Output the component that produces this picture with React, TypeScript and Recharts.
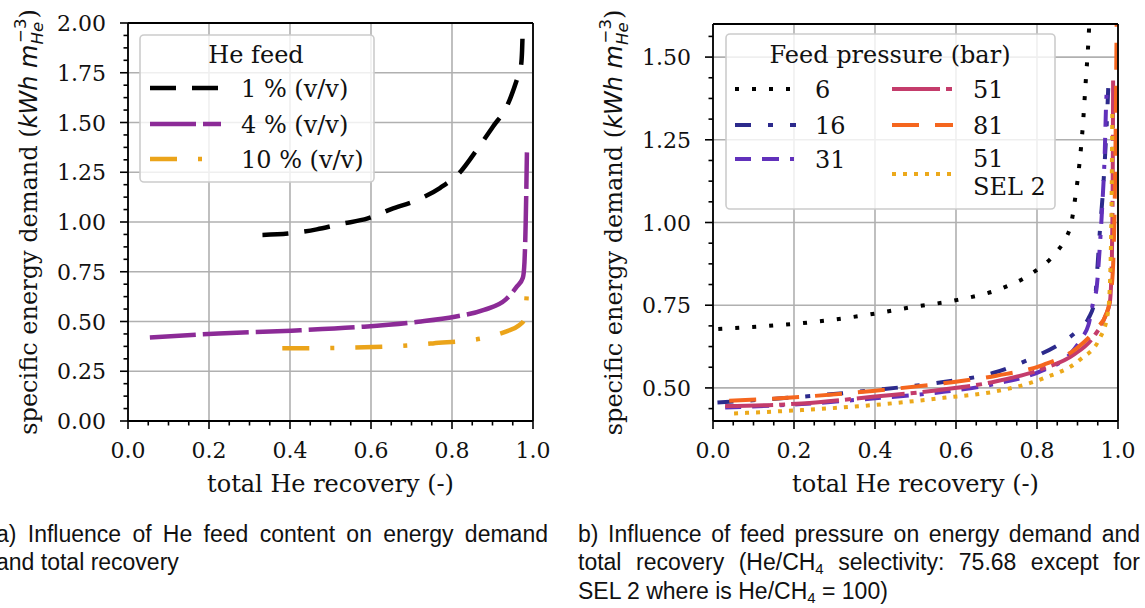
import React, { useLayoutEffect, useRef } from 'react';
import { LineChart, Line, XAxis, YAxis, CartesianGrid, ReferenceLine, Legend } from 'recharts';

// (a) He feed content
const recovery1 = [0.332, 0.395, 0.466, 0.525, 0.592, 0.65, 0.713, 0.771, 0.821, 0.861, 0.901, 0.937, 0.96, 0.97, 0.973, 0.975];
const demand1 = [0.935, 0.942, 0.963, 0.99, 1.018, 1.065, 1.11, 1.172, 1.253, 1.362, 1.479, 1.588, 1.714, 1.78, 1.86, 2.0];
const recovery4 = [0.054, 0.224, 0.404, 0.583, 0.717, 0.807, 0.879, 0.933, 0.96, 0.975, 0.979, 0.982, 0.985];
const demand4 = [0.42, 0.44, 0.454, 0.474, 0.499, 0.524, 0.558, 0.611, 0.675, 0.72, 0.8, 1.0, 1.35];
const recovery10 = [0.381, 0.5, 0.583, 0.68, 0.753, 0.874, 0.933, 0.965, 0.978, 0.982, 0.985];
const demand10 = [0.365, 0.367, 0.37, 0.378, 0.39, 0.415, 0.449, 0.48, 0.507, 0.56, 0.65];

// (b) feed pressure
const recovery6 = [0.013, 0.131, 0.254, 0.376, 0.49, 0.604, 0.713, 0.787, 0.849, 0.87, 0.885, 0.895, 0.905, 0.913, 0.92, 0.927, 0.931];
const demand6 = [0.678, 0.687, 0.7, 0.72, 0.744, 0.766, 0.801, 0.846, 0.912, 0.95, 1.0, 1.08, 1.18, 1.29, 1.42, 1.55, 1.65];
const recovery16 = [0.011, 0.184, 0.394, 0.569, 0.691, 0.787, 0.865, 0.906, 0.927, 0.943, 0.949, 0.955, 0.962, 0.968, 0.973, 0.976];
const demand16 = [0.456, 0.47, 0.493, 0.518, 0.545, 0.59, 0.64, 0.68, 0.71, 0.766, 0.86, 0.97, 1.08, 1.2, 1.32, 1.41];
const recovery31 = [0.03, 0.219, 0.394, 0.569, 0.7, 0.814, 0.88, 0.91, 0.927, 0.94, 0.947, 0.954, 0.961, 0.967, 0.971, 0.973];
const demand31 = [0.441, 0.451, 0.468, 0.488, 0.513, 0.553, 0.6, 0.65, 0.69, 0.766, 0.8, 0.907, 1.048, 1.2, 1.37, 1.41];
const recovery51 = [0.03, 0.219, 0.394, 0.569, 0.7, 0.814, 0.89, 0.94, 0.968, 0.98, 0.985, 0.987, 0.988];
const demand51 = [0.445, 0.453, 0.473, 0.495, 0.52, 0.558, 0.6, 0.655, 0.715, 0.76, 0.9, 1.15, 1.44];
const recovery81 = [0.04, 0.219, 0.394, 0.569, 0.7, 0.814, 0.898, 0.947, 0.972, 0.984, 0.99, 0.994, 0.997];
const demand81 = [0.461, 0.473, 0.491, 0.514, 0.537, 0.569, 0.62, 0.68, 0.726, 0.8, 0.95, 1.25, 1.65];
const recoverySel2 = [0.052, 0.219, 0.394, 0.569, 0.7, 0.816, 0.906, 0.955, 0.975, 0.981, 0.984, 0.986];
const demandSel2 = [0.423, 0.433, 0.448, 0.47, 0.49, 0.529, 0.585, 0.65, 0.726, 0.85, 1.05, 1.33];

// ticks
const xMajor = [0, 0.2, 0.4, 0.6, 0.8, 1.0];
const leftYMajor = [0, 0.25, 0.5, 0.75, 1.0, 1.25, 1.5, 1.75, 2.0];
const rightYMajor = [0.5, 0.75, 1.0, 1.25, 1.5];

const range = (start: number, stop: number, step: number) => {
  const out: number[] = [];
  for (let v = start; v <= stop + 1e-9; v += step) out.push(+v.toFixed(4));
  return out;
};
const xAll = range(0, 1, 0.05);
const leftYAll = range(0, 2, 0.0625);
const rightYAll = range(0.4375, 1.5625, 0.0625);

const pts = (xs: number[], ys: number[]) => xs.map((x, i) => ({ x, y: ys[i] }));

const leftSeries = [
  { name: '1 % (v/v)', data: pts(recovery1, demand1), color: '#000000', dash: '26 16' },
  { name: '4 % (v/v)', data: pts(recovery4, demand4), color: '#8c2b97', dash: '46 7' },
  { name: '10 % (v/v)', data: pts(recovery10, demand10), color: '#eba41a', dash: '27 21 4 21' },
];

const rightSeries = [
  { name: '6', data: pts(recovery6, demand6), color: '#000000', dash: '4 13' },
  { name: '16', data: pts(recovery16, demand16), color: '#2c2a8c', dash: '16 17 5 17' },
  { name: '31', data: pts(recovery31, demand31), color: '#6131bb', dash: '16 11 17 11 4 11' },
  { name: '51', data: pts(recovery51, demand51), color: '#c43c6b', dash: '48 6 6 6' },
  { name: '81', data: pts(recovery81, demand81), color: '#f5661e', dash: '27 16' },
  { name: '51 SEL 2', data: pts(recoverySel2, demandSel2), color: '#eca91b', dash: '4 7' },
];

const SERIF = 'DejaVu Serif';
const SANS = 'DejaVu Sans';
const CAPTION = 'Liberation Sans';
const INK = '#111';
const LABEL_SIZE = 24;

const isIn = (list: number[], v: number) => list.some((m) => Math.abs(m - v) < 1e-6);

const makeXTick = (majors: number[]) => (props: any) => {
  const { x, y, payload } = props;
  const major = isIn(majors, payload.value);
  return (
    <g>
      <line x1={x} x2={x} y1={y} y2={y + (major ? 8 : 4.5)} stroke="#000" strokeWidth={1.6} />
      {major && (
        <text x={x} y={y + 37} textAnchor="middle" fontFamily={SERIF} fontSize={22} fill={INK}>
          {payload.value.toFixed(1)}
        </text>
      )}
    </g>
  );
};

const makeYTick = (majors: number[]) => (props: any) => {
  const { x, y, payload } = props;
  const major = isIn(majors, payload.value);
  return (
    <g>
      <line x1={x} x2={x - (major ? 8 : 4.5)} y1={y} y2={y} stroke="#000" strokeWidth={1.6} />
      {major && (
        <text x={x - 22} y={y + 8} textAnchor="end" fontFamily={SERIF} fontSize={22} fill={INK}>
          {payload.value.toFixed(2)}
        </text>
      )}
    </g>
  );
};

const YTitle = (props: any) => {
  const vb = props.viewBox;
  const cx = vb.x + 37;
  const cy = vb.y + vb.height / 2;
  return (
    <text transform={`translate(${cx},${cy}) rotate(-90)`} textAnchor="middle" fontFamily={SERIF} fontSize={LABEL_SIZE} fill={INK}>
      specific energy demand (
      <tspan fontFamily={SANS} fontStyle="italic">kWh m</tspan>
      <tspan fontFamily={SANS} fontStyle="italic" fontSize={16.5} dy={5.5}>He</tspan>
      <tspan fontFamily={SANS} fontSize={16.5} dx={-21} dy={-16.5}>−3</tspan>
      <tspan dy={11}>)</tspan>
    </text>
  );
};

const XTitle = (props: any) => {
  const vb = props.viewBox;
  return (
    <text x={vb.x + vb.width / 2} y={vb.y + 71} textAnchor="middle" fontFamily={SERIF} fontSize={LABEL_SIZE} fill={INK}>
      total He recovery (-)
    </text>
  );
};

const frame = { fill: 'rgba(255,255,255,0.8)', stroke: '#cccccc', strokeWidth: 1.6 };

const LeftLegend = () => (
  <svg width={236} height={149} style={{ display: 'block' }}>
    <rect x={1} y={1} width={234} height={147} rx={4} {...frame} />
    <text x={117} y={29} textAnchor="middle" fontFamily={SERIF} fontSize={LABEL_SIZE} fill={INK}>He feed</text>
    {leftSeries.map((s, i) => {
      const ly = [54, 90, 125][i];
      return (
        <g key={s.name}>
          <line x1={11} x2={82} y1={ly} y2={ly} stroke={s.color} strokeWidth={4.5} strokeDasharray={s.dash} />
          <text x={102} y={ly + 9} fontFamily={SERIF} fontSize={LABEL_SIZE} fill={INK}>{s.name}</text>
        </g>
      );
    })}
  </svg>
);

const rightRows = [
  { sx: 10, tx: 90, ly: 56 },
  { sx: 10, tx: 90, ly: 92 },
  { sx: 10, tx: 90, ly: 126 },
  { sx: 167, tx: 248, ly: 56 },
  { sx: 167, tx: 248, ly: 92 },
  { sx: 167, tx: 248, ly: 141 },
];

const RightLegend = () => (
  <svg width={331} height={177} style={{ display: 'block' }}>
    <rect x={1} y={1} width={329} height={175} rx={4} {...frame} />
    <text x={165} y={30} textAnchor="middle" fontFamily={SERIF} fontSize={LABEL_SIZE} fill={INK}>Feed pressure (bar)</text>
    {rightSeries.map((s, i) => {
      const r = rightRows[i];
      const parts = s.name.split(' ');
      return (
        <g key={s.name}>
          <line x1={r.sx} x2={r.sx + 61} y1={r.ly} y2={r.ly} stroke={s.color} strokeWidth={4} strokeDasharray={s.dash} />
          {parts.length === 1 ? (
            <text x={r.tx} y={r.ly + 9} fontFamily={SERIF} fontSize={LABEL_SIZE} fill={INK}>{s.name}</text>
          ) : (
            <text x={r.tx} y={r.ly - 7.5} fontFamily={SERIF} fontSize={LABEL_SIZE} fill={INK}>
              {parts[0]}
              <tspan x={r.tx} dy={28.3}>{parts.slice(1).join(' ')}</tspan>
            </text>
          )}
        </g>
      );
    })}
  </svg>
);

type Series = { name: string; data: { x: number; y: number }[]; color: string; dash: string };

function Panel(props: {
  left: number;
  top: number;
  yDomain: [number, number];
  yMajor: number[];
  yAll: number[];
  series: Series[];
  width: number;
  legend: () => React.ReactElement;
  legendBox: { left: number; top: number; width: number; height: number };
}) {
  const { yDomain, yMajor, yAll, series } = props;
  return (
    <div style={{ position: 'absolute', left: props.left, top: 0 }}>
      <LineChart width={560} height={500} margin={{ top: props.top, right: 27, bottom: 0, left: 0 }}>
        <CartesianGrid verticalValues={xMajor} horizontalValues={yMajor} stroke="#b0b0b0" strokeWidth={1.6} />
        <XAxis
          dataKey="x"
          type="number"
          domain={[0, 1]}
          ticks={xAll}
          interval={0}
          allowDataOverflow
          height={79}
          tickSize={0}
          tickMargin={0}
          tickLine={false}
          axisLine={{ stroke: '#000', strokeWidth: 1.8 }}
          tick={makeXTick(xMajor)}
          label={<XTitle />}
        />
        <YAxis
          type="number"
          domain={yDomain}
          ticks={yAll}
          interval={0}
          allowDataOverflow
          width={128}
          tickSize={0}
          tickMargin={0}
          tickLine={false}
          axisLine={{ stroke: '#000', strokeWidth: 1.8 }}
          tick={makeYTick(yMajor)}
          label={<YTitle />}
        />
        {series.map((s) => (
          <Line
            key={s.name}
            data={s.data}
            dataKey="y"
            type="monotone"
            stroke={s.color}
            strokeWidth={props.width}
            strokeDasharray={s.dash}
            strokeLinecap="butt"
            dot={false}
            activeDot={false}
            isAnimationActive={false}
          />
        ))}
        <ReferenceLine y={yDomain[1]} stroke="#000" strokeWidth={1.8} />
        <ReferenceLine x={1} stroke="#000" strokeWidth={1.8} />
        <Legend
          verticalAlign="middle"
          align="center"
          layout="horizontal"
          content={props.legend}
          wrapperStyle={{ ...props.legendBox, position: 'absolute' }}
        />
      </LineChart>
    </div>
  );
}

function JustifiedText(props: { x: number; y: number; width?: number; children: React.ReactNode }) {
  const ref = useRef<SVGTextElement>(null);
  useLayoutEffect(() => {
    const el = ref.current;
    if (!el || !props.width) return;
    const natural = el.getComputedTextLength();
    const gaps = (el.textContent || '').split(' ').length - 1;
    if (gaps > 0) el.style.wordSpacing = `${(props.width - natural) / gaps}px`;
  }, [props.width]);
  return (
    <text ref={ref} x={props.x} y={props.y} fontFamily={CAPTION} fontSize={23} fill={INK}>
      {props.children}
    </text>
  );
}

export default function App() {
  return (
    <div style={{ position: 'absolute', left: 0, top: 0, width: 1145, height: 608, background: '#fff', overflow: 'hidden' }}>
      <Panel
        left={0}
        top={23}
        yDomain={[0, 2]}
        yMajor={leftYMajor}
        yAll={leftYAll}
        series={leftSeries}
        width={4.5}
        legend={LeftLegend}
        legendBox={{ left: 139, top: 34, width: 236, height: 149 }}
      />
      <Panel
        left={585}
        top={24}
        yDomain={[0.4, 1.6]}
        yMajor={rightYMajor}
        yAll={rightYAll}
        series={rightSeries}
        width={4}
        legend={RightLegend}
        legendBox={{ left: 140, top: 33, width: 331, height: 177 }}
      />
      <svg width={1145} height={108} style={{ position: 'absolute', left: 0, top: 500 }}>
        <JustifiedText x={-4} y={41.5} width={552}>a) Influence of He feed content on energy demand</JustifiedText>
        <JustifiedText x={-4} y={70}>and total recovery</JustifiedText>
        <JustifiedText x={578} y={41.5} width={562}>b) Influence of feed pressure on energy demand and</JustifiedText>
        <JustifiedText x={578} y={70} width={562}>
          total recovery (He/CH<tspan fontSize={15} dy={4}>4</tspan>
          <tspan dy={-4}> selectivity: 75.68 except for</tspan>
        </JustifiedText>
        <JustifiedText x={578} y={98.5}>
          SEL 2 where is He/CH<tspan fontSize={15} dy={4}>4</tspan>
          <tspan dy={-4}> = 100)</tspan>
        </JustifiedText>
      </svg>
    </div>
  );
}
